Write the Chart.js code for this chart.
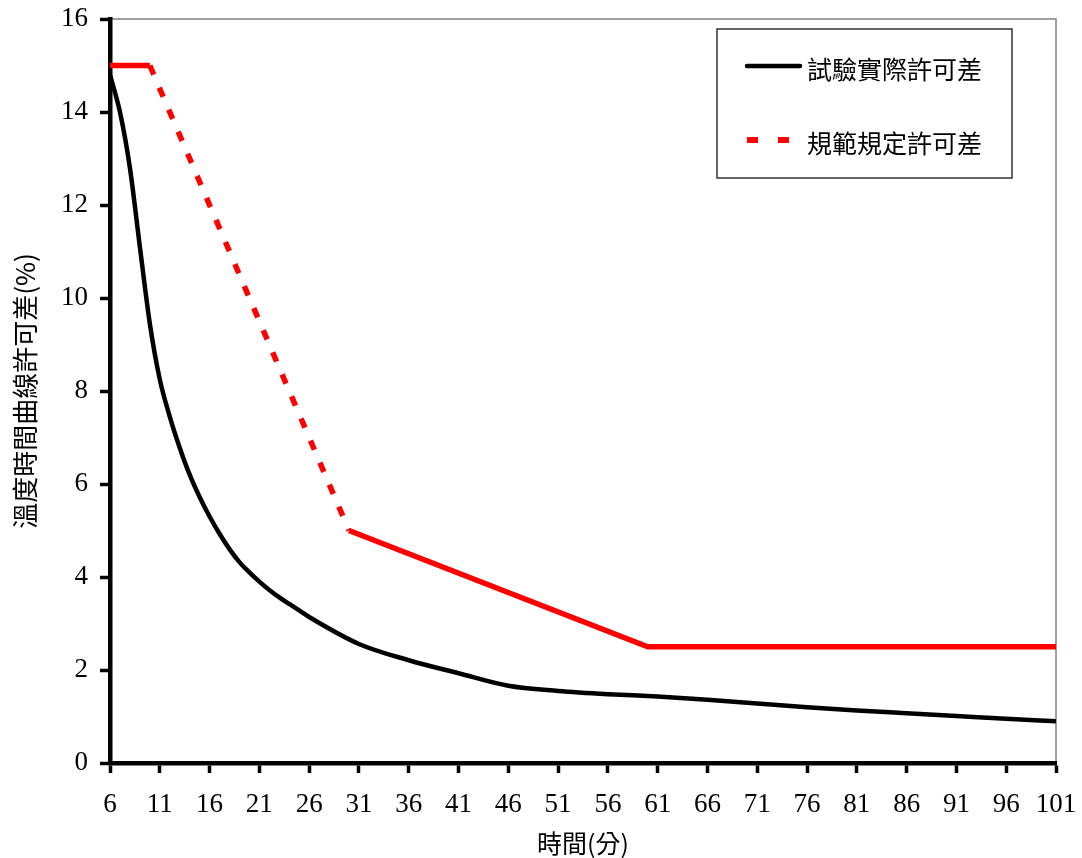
<!DOCTYPE html>
<html>
<head>
<meta charset="utf-8">
<script src="https://cdn.jsdelivr.net/npm/chart.js@4/dist/chart.umd.min.js"></script>
<style>
  html, body { margin: 0; padding: 0; background: #fff; }
  #wrap { width: 1082px; height: 858px; position: relative; }
</style>
</head>
<body>
<div id="wrap"><canvas id="chart"></canvas></div>
<script>
// 試驗實際許可差
const actualX = [6, 7, 8, 9, 10, 11, 12, 13, 14, 15, 16, 17, 18, 19, 20, 21, 22, 23, 24, 25, 26, 31, 36, 41, 46, 51, 56, 61, 66, 71, 76, 81, 86, 91, 96, 101];
const actualY = [14.8, 14.0, 12.8, 11.1, 9.45, 8.25, 7.45, 6.78, 6.2, 5.72, 5.3, 4.93, 4.6, 4.32, 4.1, 3.9, 3.72, 3.56, 3.42, 3.28, 3.14, 2.56, 2.21, 1.93, 1.66, 1.55, 1.48, 1.43, 1.36, 1.28, 1.2, 1.13, 1.07, 1.01, 0.95, 0.9];

// 規範規定許可差
const specX = [6, 10, 30, 60, 101];
const specY = [15, 15, 5, 2.5, 2.5];

const xTicks = [6, 11, 16, 21, 26, 31, 36, 41, 46, 51, 56, 61, 66, 71, 76, 81, 86, 91, 96, 101];
const yTicks = [0, 2, 4, 6, 8, 10, 12, 14, 16];

const labels = ['試驗實際許可差', '規範規定許可差'];

const numFont = { family: '"Liberation Serif", "Times New Roman", serif', size: 27 };
const cjkFont = { family: '"Noto Sans CJK TC", "Noto Sans CJK SC", sans-serif', size: 25 };
const yTitleFont = { family: cjkFont.family, size: 26 };

const toPoints = (xs, ys) => xs.map((x, i) => ({ x: x, y: ys[i] }));

const dashed = [10, 14];

// layout is fixed by hand, so drop the extra room scales ask for their labels
const noPad = (scale) => {
  scale.paddingTop = 0;
  scale.paddingBottom = 0;
  scale.paddingLeft = 0;
  scale.paddingRight = 0;
};

// thin grey frame on top / right of the plot
const frame = {
  id: 'frame',
  beforeDraw(chart) {
    const { ctx, chartArea: { left, top, right, bottom } } = chart;
    ctx.save();
    ctx.strokeStyle = '#808080';
    ctx.lineWidth = 1.5;
    ctx.strokeRect(left, top, right - left, bottom - top);
    ctx.restore();
  },
};

// legend in a box inside the plot
const boxLegend = {
  id: 'boxLegend',
  afterDatasetsDraw(chart) {
    const { ctx, chartArea: { top, right } } = chart;
    const x = right - 339;
    const y = top + 10;
    const w = 295;
    const h = 149;
    ctx.save();
    ctx.fillStyle = '#fff';
    ctx.fillRect(x, y, w, h);
    ctx.strokeStyle = '#333';
    ctx.lineWidth = 1.5;
    ctx.strokeRect(x, y, w, h);

    const rows = [y + 37, y + 111];
    chart.data.datasets.forEach((ds, i) => {
      const ly = rows[i];
      ctx.strokeStyle = ds.borderColor;
      ctx.lineWidth = i === 0 ? 4.5 : 6;
      ctx.lineCap = i === 0 ? 'round' : 'butt';
      ctx.setLineDash(i === 0 ? [] : [11, 20]);
      ctx.beginPath();
      ctx.moveTo(x + 30, ly);
      ctx.lineTo(x + 83, ly);
      ctx.stroke();
      ctx.setLineDash([]);

      ctx.fillStyle = '#000';
      ctx.font = `${cjkFont.size}px ${cjkFont.family}`;
      ctx.textBaseline = 'middle';
      ctx.textAlign = 'left';
      ctx.fillText(ds.label, x + 90, ly + 3);
    });
    ctx.restore();
  },
};

new Chart(document.getElementById('chart'), {
  type: 'line',
  data: {
    datasets: [
      {
        label: labels[0],
        data: toPoints(actualX, actualY),
        borderColor: '#000',
        borderWidth: 4.5,
        pointRadius: 0,
        cubicInterpolationMode: 'monotone',
        fill: false,
      },
      {
        label: labels[1],
        data: toPoints(specX, specY),
        borderColor: '#ff0000',
        borderWidth: 5.5,
        pointRadius: 0,
        tension: 0,
        fill: false,
        segment: {
          borderDash: (c) => (c.p0.parsed.x >= 10 && c.p1.parsed.x <= 30 ? dashed : undefined),
        },
      },
    ],
  },
  options: {
    responsive: true,
    maintainAspectRatio: false,
    animation: false,
    layout: { padding: { left: 0, right: 26, top: 19, bottom: 0 } },
    plugins: {
      legend: { display: false },
      tooltip: { enabled: false },
    },
    scales: {
      x: {
        type: 'linear',
        min: 6,
        max: 101,
        afterFit(scale) { scale.height = 95; noPad(scale); },
        afterBuildTicks(scale) { scale.ticks = xTicks.map((v) => ({ value: v })); },
        ticks: { font: numFont, color: '#000', padding: 16, maxRotation: 0, autoSkip: false },
        grid: { drawOnChartArea: false, tickLength: 10, tickColor: '#000', tickWidth: 3.5 },
        border: { display: true, color: '#000', width: 4.5 },
        title: { display: true, text: '時間(分)', font: cjkFont, color: '#000', padding: { top: 0, bottom: 0 } },
      },
      y: {
        min: 0,
        max: 16,
        afterFit(scale) { scale.width = 110; noPad(scale); },
        afterBuildTicks(scale) { scale.ticks = yTicks.map((v) => ({ value: v })); },
        ticks: { font: numFont, color: '#000', padding: 12 },
        grid: { drawOnChartArea: false, tickLength: 10, tickColor: '#000', tickWidth: 3.5 },
        border: { display: true, color: '#000', width: 4.5 },
        title: { display: true, text: '溫度時間曲線許可差(%)', font: yTitleFont, color: '#000', padding: { top: 10, bottom: 0 } },
      },
    },
  },
  plugins: [frame, boxLegend],
});
</script>
</body>
</html>
